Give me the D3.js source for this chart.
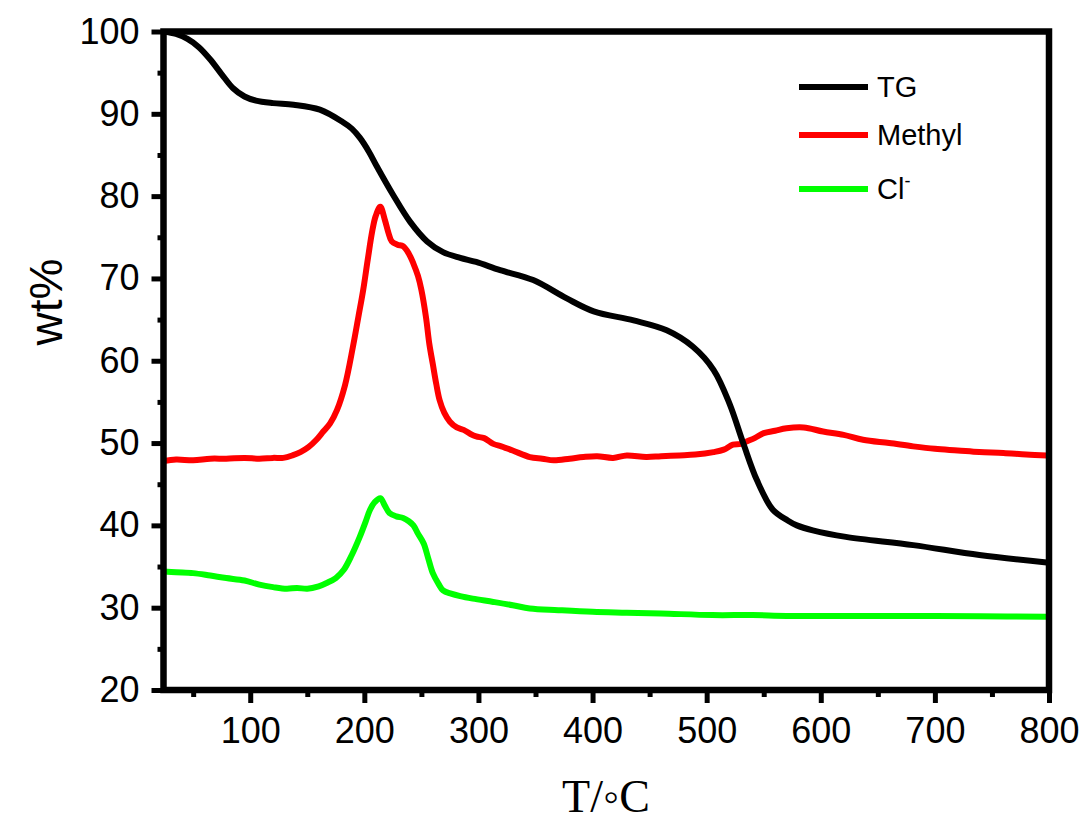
<!DOCTYPE html>
<html>
<head>
<meta charset="utf-8">
<script src="https://cdn.jsdelivr.net/npm/d3@7"></script>
<style>
  html, body { margin: 0; padding: 0; background: #fff; }
  svg { display: block; }
</style>
</head>
<body>
<svg id="chart" width="1088" height="825"></svg>
<script>
// Thermogravimetric curve (wt%) and evolved-species signals vs temperature
const tgTemp = [24, 35, 45, 55, 65, 75, 85, 95, 105, 120, 138, 161, 181, 189, 196, 204, 211, 225, 240, 255, 269, 284, 298, 319, 348, 377, 401, 436, 465, 488, 506, 520, 532, 544, 558, 571, 579, 593, 622, 681, 739, 798];
const tgWt   = [100, 99.7, 99.1, 98.1, 96.6, 94.8, 93.1, 92.1, 91.6, 91.3, 91.1, 90.5, 89.0, 88.2, 87.1, 85.4, 83.6, 80.2, 76.9, 74.5, 73.2, 72.5, 72.0, 71.0, 69.8, 67.6, 66.0, 64.9, 63.7, 61.7, 58.9, 54.8, 50.0, 45.5, 41.9, 40.6, 40.0, 39.4, 38.6, 37.6, 36.4, 35.5];

const methylTemp = [24, 35, 50, 65, 79, 95, 108, 120, 129, 137, 144, 151, 158, 164, 170, 176, 183, 190, 195, 199, 203, 207, 210, 214, 218, 221, 224, 229, 234, 239, 243, 247, 250, 254, 257, 260, 263, 266, 270, 275, 281, 287, 293, 298, 305, 313, 320, 330, 345, 356, 366, 380, 392, 404, 418, 430, 447, 460, 476, 490, 506, 515, 523, 530, 535, 542, 550, 560, 570, 585, 602, 620, 637, 660, 681, 700, 720, 739, 760, 780, 798];
const methylVal  = [47.8, 48.0, 47.9, 48.1, 48.1, 48.2, 48.1, 48.2, 48.2, 48.5, 48.9, 49.5, 50.4, 51.4, 52.4, 54.0, 57.0, 61.7, 65.5, 68.6, 72.3, 75.8, 77.6, 78.7, 77.1, 75.6, 74.5, 74.1, 73.9, 73.0, 71.8, 70.3, 68.6, 65.3, 62.0, 59.6, 57.2, 55.2, 53.7, 52.6, 51.9, 51.6, 51.1, 50.8, 50.6, 49.9, 49.6, 49.1, 48.3, 48.1, 47.9, 48.1, 48.3, 48.4, 48.2, 48.5, 48.3, 48.4, 48.5, 48.6, 48.9, 49.2, 49.8, 49.9, 50.2, 50.6, 51.2, 51.5, 51.8, 51.9, 51.4, 51.0, 50.4, 50.0, 49.6, 49.3, 49.1, 48.9, 48.8, 48.6, 48.5];

const clTemp = [24, 35, 50, 65, 79, 95, 108, 120, 132, 141, 150, 160, 167, 175, 182, 189, 196, 201, 205, 209, 214, 218, 222, 228, 234, 239, 243, 247, 252, 256, 260, 265, 269, 276, 284, 295, 313, 330, 345, 370, 400, 430, 460, 505, 540, 570, 620, 680, 740, 798];
const clVal  = [34.4, 34.3, 34.2, 33.9, 33.6, 33.3, 32.8, 32.5, 32.3, 32.4, 32.3, 32.6, 33.0, 33.6, 34.6, 36.4, 38.6, 40.4, 41.9, 42.8, 43.3, 42.4, 41.5, 41.1, 40.9, 40.5, 40.0, 39.0, 37.8, 36.0, 34.2, 32.9, 32.1, 31.7, 31.4, 31.1, 30.7, 30.3, 29.9, 29.7, 29.5, 29.4, 29.3, 29.1, 29.1, 29.0, 29.0, 29.0, 28.95, 28.9];

const xMajor = [100, 200, 300, 400, 500, 600, 700, 800];
const xMinor = [50, 150, 250, 350, 450, 550, 650, 750];
const yMajor = [20, 30, 40, 50, 60, 70, 80, 90, 100];
const yMinor = [25, 35, 45, 55, 65, 75, 85, 95];

const seriesNames = ["TG", "Methyl", "Cl"];
const seriesColors = ["#000000", "#ff0000", "#00ff00"];

const svg = d3.select("#chart");
const padL = 163.5, padR = 1049, padT = 31.5, padB = 690;

const x = d3.scaleLinear().domain([24, 800]).range([padL, padR]);
const y = d3.scaleLinear().domain([20, 100]).range([padB, padT]);

const font = '"Liberation Sans", Arial, sans-serif';

// curves
const line = d3.line().x(d => x(d[0])).y(d => y(d[1])).curve(d3.curveCatmullRom.alpha(0.5));
const series = [
  d3.zip(tgTemp, tgWt),
  d3.zip(methylTemp, methylVal),
  d3.zip(clTemp, clVal)
];
svg.append("clipPath").attr("id", "plotclip")
  .append("rect").attr("x", padL).attr("y", padT).attr("width", padR - padL).attr("height", padB - padT);

const plot = svg.append("g").attr("clip-path", "url(#plotclip)");
[2, 1, 0].forEach(i => {
  plot.append("path")
    .datum(series[i])
    .attr("fill", "none")
    .attr("stroke", seriesColors[i])
    .attr("stroke-width", 6)
    .attr("stroke-linejoin", "round")
    .attr("stroke-linecap", "round")
    .attr("d", line);
});

// axes: minor ticks first, then major ticks with labels
function styleAxis(g, w) {
  g.select(".domain").remove();
  g.selectAll(".tick line").attr("stroke", "#000").attr("stroke-width", w);
}
svg.append("g").attr("transform", `translate(0,${padB})`)
  .call(d3.axisBottom(x).tickValues(xMinor).tickSize(7).tickFormat(""))
  .call(g => styleAxis(g, 5));
svg.append("g").attr("transform", `translate(0,${padB})`)
  .call(d3.axisBottom(x).tickValues(xMajor).tickSize(13).tickPadding(14).tickFormat(d3.format("d")))
  .call(g => styleAxis(g, 5))
  .call(g => g.selectAll(".tick text").attr("font-size", 36).attr("fill", "#000").attr("font-family", font));

svg.append("g").attr("transform", `translate(${padL},0)`)
  .call(d3.axisLeft(y).tickValues(yMinor).tickSize(6).tickFormat(""))
  .call(g => styleAxis(g, 5));
svg.append("g").attr("transform", `translate(${padL},0)`)
  .call(d3.axisLeft(y).tickValues(yMajor).tickSize(12).tickPadding(12).tickFormat(d3.format("d")))
  .call(g => styleAxis(g, 5))
  .call(g => g.selectAll(".tick text").attr("font-size", 36).attr("fill", "#000").attr("font-family", font));

// frame
svg.append("rect")
  .attr("x", padL).attr("y", padT)
  .attr("width", padR - padL).attr("height", padB - padT)
  .attr("fill", "none").attr("stroke", "#000").attr("stroke-width", 6.5);

// axis titles
svg.append("text")
  .attr("x", 606).attr("y", 812)
  .attr("text-anchor", "middle")
  .attr("font-family", '"Liberation Serif", "Times New Roman", serif')
  .attr("font-size", 46)
  .text("T/\u25E6C");

svg.append("text")
  .attr("transform", "translate(62,302) rotate(-90)")
  .attr("text-anchor", "middle")
  .attr("font-family", font)
  .attr("font-size", 46)
  .text("wt%");

// legend
const legendY = [87, 135, 189];
const legend = svg.append("g");
seriesNames.forEach((name, i) => {
  legend.append("line")
    .attr("x1", 799).attr("x2", 868)
    .attr("y1", legendY[i]).attr("y2", legendY[i])
    .attr("stroke", seriesColors[i]).attr("stroke-width", 6);
  const t = legend.append("text")
    .attr("x", 877).attr("y", legendY[i] + 10)
    .attr("font-family", font).attr("font-size", 29)
    .text(name);
  if (name === "Cl") {
    t.append("tspan").attr("font-size", 18).attr("dy", -12).text("-");
  }
});
</script>
</body>
</html>
